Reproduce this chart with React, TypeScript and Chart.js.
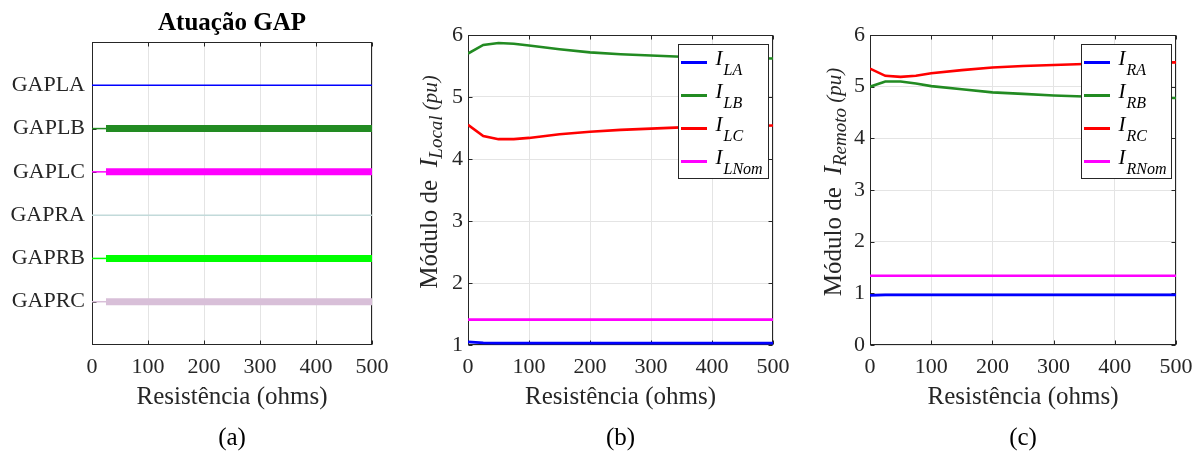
import React, { useEffect, useRef } from 'react';
import { Chart, registerables } from 'chart.js';

Chart.register(...registerables);

const FONT = '"Liberation Serif", "Times New Roman", serif';
const AXIS = '#262626';
const GRID = '#e4e4e4';

// ---------- Panel (a): GAP actuation ----------
const gapTitle = 'Atuação GAP';
const gapNames = ['GAPLA', 'GAPLB', 'GAPLC', 'GAPRA', 'GAPRB', 'GAPRC'];
const gapColors = ['#0000ff', '#228b22', '#ff00ff', '#c2dada', '#00ff00', '#d8bfd8'];
const gapX = [0, 25, 500];
const gapLA = [0, 0, 0];
const gapLB = [0, 1, 1];
const gapLC = [0, 1, 1];
const gapRA = [0, 0, 0];
const gapRB = [0, 1, 1];
const gapRC = [0, 1, 1];
const gapStates = [gapLA, gapLB, gapLC, gapRA, gapRB, gapRC];

// ---------- Panels (b) and (c): currents ----------
const xTitle = 'Resistência (ohms)';
const resX = [0, 25, 50, 75, 100, 150, 200, 250, 300, 350, 400, 450, 500];

const iLA = [1.05, 1.035, 1.03, 1.03, 1.03, 1.03, 1.03, 1.03, 1.03, 1.03, 1.03, 1.03, 1.03];
const iLB = [5.70, 5.84, 5.87, 5.86, 5.83, 5.77, 5.72, 5.69, 5.67, 5.65, 5.64, 5.63, 5.62];
const iLC = [4.55, 4.37, 4.32, 4.32, 4.34, 4.40, 4.44, 4.47, 4.49, 4.51, 4.52, 4.53, 4.54];
const iLNom = [1.41, 1.41, 1.41, 1.41, 1.41, 1.41, 1.41, 1.41, 1.41, 1.41, 1.41, 1.41, 1.41];

const iRA = [0.96, 0.97, 0.97, 0.97, 0.97, 0.97, 0.97, 0.97, 0.97, 0.97, 0.97, 0.97, 0.97];
const iRB = [5.00, 5.10, 5.10, 5.06, 5.01, 4.95, 4.89, 4.86, 4.83, 4.81, 4.80, 4.79, 4.78];
const iRC = [5.35, 5.21, 5.19, 5.21, 5.26, 5.32, 5.37, 5.40, 5.42, 5.44, 5.45, 5.46, 5.47];
const iRNom = [1.34, 1.34, 1.34, 1.34, 1.34, 1.34, 1.34, 1.34, 1.34, 1.34, 1.34, 1.34, 1.34];

const localLabels = [['I', 'LA'], ['I', 'LB'], ['I', 'LC'], ['I', 'LNom']];
const remoteLabels = [['I', 'RA'], ['I', 'RB'], ['I', 'RC'], ['I', 'RNom']];
const seriesColors = ['#0000ff', '#228b22', '#ff0000', '#ff00ff'];

// ---------- plugins ----------
const boxPlugin = {
  id: 'boxTicks',
  beforeDatasetsDraw(chart: any) {
    const { ctx, chartArea: a, scales } = chart;
    const L = Math.round(a.left) + 0.5;
    const R = Math.round(a.right) - 0.5;
    const T = Math.round(a.top) + 0.5;
    const B = Math.round(a.bottom) - 0.5;
    ctx.save();
    ctx.strokeStyle = AXIS;
    ctx.lineWidth = 1;
    ctx.strokeRect(L, T, R - L, B - T);
    const tl = 4;
    ctx.beginPath();
    scales.x.ticks.forEach((t: any) => {
      const px = Math.round(scales.x.getPixelForValue(t.value)) + 0.5;
      ctx.moveTo(px, B); ctx.lineTo(px, B - tl);
      ctx.moveTo(px, T); ctx.lineTo(px, T + tl);
    });
    scales.y.ticks.forEach((t: any) => {
      const py = Math.round(scales.y.getPixelForValue(t.value)) + 0.5;
      ctx.moveTo(L, py); ctx.lineTo(L + tl, py);
      ctx.moveTo(R, py); ctx.lineTo(R - tl, py);
    });
    ctx.stroke();
    ctx.restore();
  },
};

const richLegendPlugin = {
  id: 'richLegend',
  afterDatasetsDraw(chart: any, _args: any, opts: any) {
    if (!opts || !opts.items) return;
    const { ctx, chartArea: a } = chart;
    const w = 90, h = 134;
    const left = Math.round(a.right - 5 - w) + 0.5;
    const top = Math.round(a.top + 9) + 0.5;
    ctx.save();
    ctx.fillStyle = '#ffffff';
    ctx.fillRect(left, top, w, h);
    ctx.strokeStyle = AXIS;
    ctx.lineWidth = 1;
    ctx.strokeRect(left, top, w, h);
    opts.items.forEach((it: any, i: number) => {
      const y = top + 18 + 33 * i;
      ctx.strokeStyle = it.color;
      ctx.lineWidth = 3;
      ctx.beginPath();
      ctx.moveTo(left + 2.5, y);
      ctx.lineTo(left + 28.5, y);
      ctx.stroke();
      ctx.fillStyle = '#000000';
      ctx.textBaseline = 'alphabetic';
      ctx.textAlign = 'left';
      ctx.font = `italic 21px ${FONT}`;
      ctx.fillText(it.main, left + 37, y + 2);
      const wI = ctx.measureText(it.main).width;
      ctx.font = `italic 16px ${FONT}`;
      ctx.fillText(it.sub, left + 37 + wI + 1, y + 12);
    });
    ctx.restore();
  },
};

const yLabelPlugin = {
  id: 'richYLabel',
  afterDraw(chart: any, _args: any, opts: any) {
    if (!opts || !opts.segs) return;
    const { ctx } = chart;
    ctx.save();
    ctx.translate(opts.x, opts.y);
    ctx.rotate(-Math.PI / 2);
    ctx.textBaseline = 'alphabetic';
    ctx.textAlign = 'left';
    ctx.fillStyle = AXIS;
    const fonts = opts.segs.map((s: any) => `${s.italic ? 'italic ' : ''}${s.size}px ${FONT}`);
    const widths = opts.segs.map((s: any, i: number) => {
      ctx.font = fonts[i];
      return ctx.measureText(s.text).width;
    });
    const total = widths.reduce((p: number, c: number) => p + c, 0);
    let x = -total / 2;
    opts.segs.forEach((s: any, i: number) => {
      ctx.font = fonts[i];
      ctx.fillText(s.text, x, s.dy || 0);
      x += widths[i];
    });
    ctx.restore();
  },
};

const captionPlugin = {
  id: 'caption',
  afterDraw(chart: any, _args: any, opts: any) {
    if (!opts || !opts.text) return;
    const { ctx, chartArea: a } = chart;
    ctx.save();
    ctx.font = `25px ${FONT}`;
    ctx.fillStyle = '#000000';
    ctx.textAlign = 'center';
    ctx.textBaseline = 'middle';
    ctx.fillText(opts.text, (a.left + a.right) / 2, opts.y);
    ctx.restore();
  },
};

const tickFont = { family: FONT, size: 22 };

function xAxis() {
  return {
    type: 'linear',
    min: 0,
    max: 500,
    ticks: { stepSize: 100, font: tickFont, color: AXIS, padding: 9, maxRotation: 0 },
    grid: { color: GRID, lineWidth: 1, drawTicks: false },
    border: { display: false },
    title: { display: true, text: xTitle, font: { family: FONT, size: 25 }, color: AXIS, padding: { top: 0, bottom: 0 } },
    afterFit: (s: any) => { s.height = 67; },
  };
}

function gapConfig(): any {
  const datasets = gapNames.map((name, i) => ({
    label: name,
    data: gapX.map((x) => ({ x, y: i + 1 })),
    borderColor: gapColors[i],
    backgroundColor: gapColors[i],
    borderWidth: 1.5,
    borderCapStyle: 'butt',
    pointRadius: 0,
    segment: {
      borderWidth: (ctx: any) => (gapStates[i][ctx.p0DataIndex] ? 7 : 1.5),
    },
  }));
  return {
    type: 'line',
    data: { datasets },
    options: {
      responsive: false,
      animation: false,
      layout: { padding: { left: 0, right: 28, top: 0, bottom: 40 } },
      scales: {
        x: xAxis(),
        y: {
          type: 'linear',
          reverse: true,
          min: 0,
          max: 7,
          afterBuildTicks: (s: any) => { s.ticks = gapNames.map((_, i) => ({ value: i + 1 })); },
          ticks: { font: tickFont, color: AXIS, padding: 7, callback: (v: any) => gapNames[v - 1] ?? '' },
          grid: { display: false, drawTicks: false },
          border: { display: false },
          afterFit: (s: any) => { s.width = 92; },
        },
      },
      plugins: {
        legend: { display: false },
        tooltip: { enabled: false },
        title: {
          display: true,
          text: gapTitle,
          fullSize: false,
          font: { family: FONT, size: 25, weight: 'bold' },
          color: '#000000',
          padding: { top: 9, bottom: 3 },
        },
        caption: { text: '(a)', y: 438 },
      },
    },
    plugins: [boxPlugin, captionPlugin],
  };
}

function currentConfig(series: number[][], labels: string[][], yMin: number, yWidth: number, padRight: number, ySegs: any[], yLabelX: number, caption: string): any {
  const datasets = series.map((vals, i) => ({
    label: labels[i].join('_'),
    data: resX.map((x, j) => ({ x, y: vals[j] })),
    borderColor: seriesColors[i],
    backgroundColor: seriesColors[i],
    borderWidth: 2.6,
    pointRadius: 0,
    tension: 0,
  }));
  return {
    type: 'line',
    data: { datasets },
    options: {
      responsive: false,
      animation: false,
      layout: { padding: { left: 0, right: padRight, top: 35, bottom: 40 } },
      scales: {
        x: xAxis(),
        y: {
          type: 'linear',
          min: yMin,
          max: 6,
          ticks: { stepSize: 1, font: tickFont, color: AXIS, padding: 5 },
          grid: { color: GRID, lineWidth: 1, drawTicks: false },
          border: { display: false },
          afterFit: (s: any) => { s.width = yWidth; },
        },
      },
      plugins: {
        legend: { display: false },
        tooltip: { enabled: false },
        richLegend: { items: labels.map((l, i) => ({ main: l[0], sub: l[1], color: seriesColors[i] })) },
        richYLabel: { segs: ySegs, x: yLabelX, y: 182 },
        caption: { text: caption, y: 438 },
      },
    },
    plugins: [boxPlugin, richLegendPlugin, yLabelPlugin, captionPlugin],
  };
}

const localYLabel = [
  { text: 'Módulo de  ', size: 25 },
  { text: 'I', size: 26, italic: true },
  { text: 'Local', size: 19, italic: true, dy: 5 },
  { text: ' (pu)', size: 21, italic: true },
];
const remoteYLabel = [
  { text: 'Módulo de  ', size: 25 },
  { text: 'I', size: 26, italic: true },
  { text: 'Remoto', size: 19, italic: true, dy: 5 },
  { text: ' (pu)', size: 21, italic: true },
];

function Panel({ left, width, config }: { left: number; width: number; config: () => any }) {
  const ref = useRef<HTMLCanvasElement | null>(null);
  useEffect(() => {
    if (!ref.current) return;
    const chart = new Chart(ref.current, config());
    return () => chart.destroy();
  }, []);
  return (
    <div style={{ position: 'absolute', left, top: 0, width, height: 452 }}>
      <canvas ref={ref} width={width} height={452} style={{ width, height: 452, display: 'block' }} />
    </div>
  );
}

export default function App() {
  return (
    <div style={{ position: 'absolute', left: 0, top: 0, width: 1195, height: 452, background: '#ffffff', overflow: 'hidden' }}>
      <Panel left={0} width={400} config={gapConfig} />
      <Panel
        left={400}
        width={400}
        config={() => currentConfig([iLA, iLB, iLC, iLNom], localLabels, 1, 68, 27, localYLabel, 37, '(b)')}
      />
      <Panel
        left={800}
        width={404}
        config={() => currentConfig([iRA, iRB, iRC, iRNom], remoteLabels, 0, 70, 28, remoteYLabel, 41, '(c)')}
      />
    </div>
  );
}
